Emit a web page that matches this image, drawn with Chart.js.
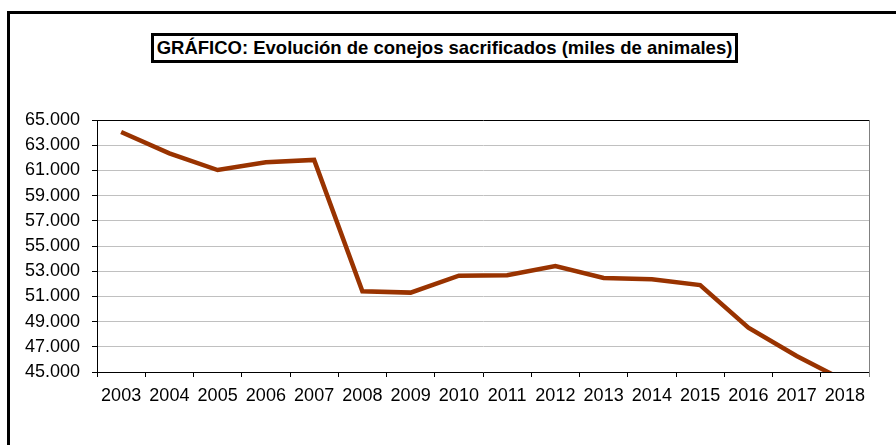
<!DOCTYPE html>
<html>
<head>
<meta charset="utf-8">
<script src="https://cdn.jsdelivr.net/npm/chart.js@4"></script>
<style>
    body { margin: 0; background: #fff; }
    #wrap { position: relative; width: 896px; height: 445px; overflow: hidden; }
    #frame {
        position: absolute; left: 7px; top: 11px; width: 1000px; height: 1000px;
        border-left: 3px solid #000; border-top: 3px solid #000;
    }
    #title {
        position: absolute; left: 151px; top: 33px; width: 581px; height: 24px;
        border: 3px solid #000;
        font: bold 18.5px "Liberation Sans", Arial, sans-serif;
        line-height: 24px; text-align: center; color: #000; background: #fff;
        white-space: nowrap;
    }
    #chartBox { position: absolute; left: 0; top: 0; width: 896px; height: 445px; }
</style>
</head>
<body>
<div id="wrap">
    <div id="chartBox"><canvas id="chart"></canvas></div>
    <div id="frame"></div>
    <div id="title">GRÁFICO: Evolución de conejos sacrificados (miles de animales)</div>
</div>
<script>
const years = ['2003', '2004', '2005', '2006', '2007', '2008', '2009', '2010',
    '2011', '2012', '2013', '2014', '2015', '2016', '2017', '2018'];
// miles de animales
const sacrificados = [64050, 62350, 61030, 61650, 61830, 51400, 51300, 52640,
    52680, 53410, 52460, 52360, 51900, 48520, 46270, 44300];
const yMin = 45000;
const yMax = 65000;
const yStep = 2000;

function formatMiles(v) {
    return String(v).replace(/\B(?=(\d{3})+(?!\d))/g, '.');
}

const tickFont = { family: '"Liberation Sans", Arial, sans-serif', size: 18 };

// right edge of the plot frame
const rightBorder = {
    id: 'rightBorder',
    afterDraw(chart) {
        const { ctx, chartArea } = chart;
        ctx.save();
        ctx.strokeStyle = '#808080';
        ctx.lineWidth = 1;
        ctx.beginPath();
        ctx.moveTo(Math.round(chartArea.right) + 0.5, chartArea.top);
        ctx.lineTo(Math.round(chartArea.right) + 0.5, chartArea.bottom + 5);
        ctx.stroke();
        ctx.restore();
    }
};

new Chart(document.getElementById('chart'), {
    type: 'line',
    data: {
        labels: years,
        datasets: [{
            data: sacrificados,
            borderColor: '#993300',
            borderWidth: 4.5,
            pointRadius: 0,
            tension: 0,
            clip: 0
        }]
    },
    options: {
        responsive: true,
        maintainAspectRatio: false,
        animation: false,
        layout: { padding: { top: 120, right: 27, left: 0, bottom: 0 } },
        plugins: { legend: { display: false }, tooltip: { enabled: false } },
        scales: {
            x: {
                offset: true,
                grid: { offset: true, drawOnChartArea: false, tickLength: 5, color: '#000' },
                border: { color: '#000', width: 1 },
                ticks: { font: tickFont, color: '#000', padding: 8, maxRotation: 0, autoSkip: false },
                afterFit: s => { s.height = 73; }
            },
            y: {
                min: yMin,
                max: yMax,
                grid: {
                    color: c => (c.tick && c.tick.value === yMax) ? '#000' : '#c0c0c0',
                    tickColor: '#000',
                    tickLength: 5
                },
                border: { color: '#000', width: 1 },
                ticks: {
                    stepSize: yStep,
                    font: tickFont,
                    color: '#000',
                    padding: 12,
                    callback: v => formatMiles(v)
                },
                afterFit: s => { s.width = 97; }
            }
        }
    },
    plugins: [rightBorder]
});
</script>
</body>
</html>
